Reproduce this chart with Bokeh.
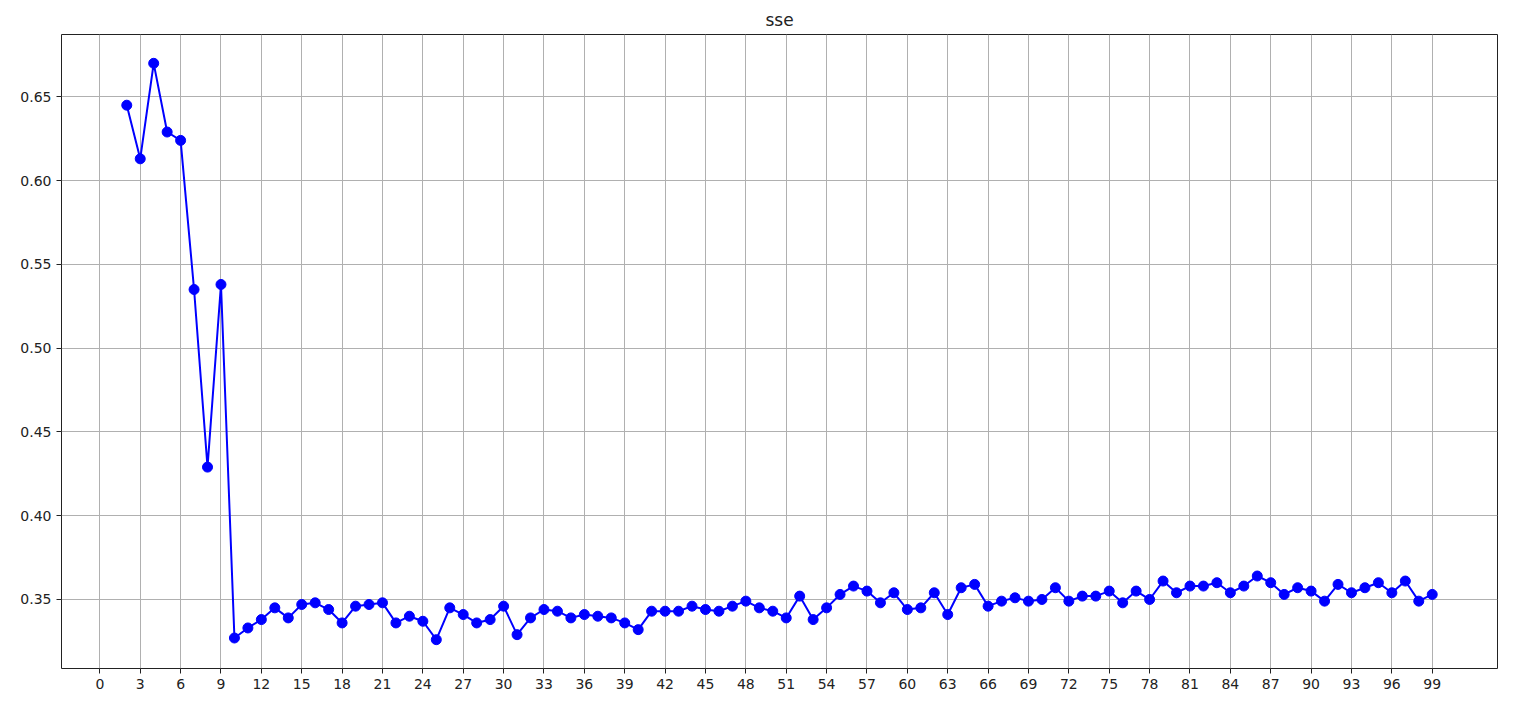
from bokeh.plotting import figure
from bokeh.models import FixedTicker, PrintfTickFormatter, Range1d
from bokeh.embed import file_html
from bokeh.resources import INLINE

# number of clusters k and the sse for each
k_values = list(range(2, 100))
sse = [
    0.645, 0.613, 0.670, 0.629, 0.624, 0.535, 0.429, 0.538,             # 2-9
    0.327, 0.333, 0.338, 0.345, 0.339, 0.347, 0.348, 0.344, 0.336, 0.346,  # 10-19
    0.347, 0.348, 0.336, 0.340, 0.337, 0.326, 0.345, 0.341, 0.336, 0.338,  # 20-29
    0.346, 0.329, 0.339, 0.344, 0.343, 0.339, 0.341, 0.340, 0.339, 0.336,  # 30-39
    0.332, 0.343, 0.343, 0.343, 0.346, 0.344, 0.343, 0.346, 0.349, 0.345,  # 40-49
    0.343, 0.339, 0.352, 0.338, 0.345, 0.353, 0.358, 0.355, 0.348, 0.354,  # 50-59
    0.344, 0.345, 0.354, 0.341, 0.357, 0.359, 0.346, 0.349, 0.351, 0.349,  # 60-69
    0.350, 0.357, 0.349, 0.352, 0.352, 0.355, 0.348, 0.355, 0.350, 0.361,  # 70-79
    0.354, 0.358, 0.358, 0.360, 0.354, 0.358, 0.364, 0.360, 0.353, 0.357,  # 80-89
    0.355, 0.349, 0.359, 0.354, 0.357, 0.360, 0.354, 0.361, 0.349, 0.353,  # 90-99
]
x_ticks = list(range(0, 100, 3))
y_ticks = [0.35, 0.40, 0.45, 0.50, 0.55, 0.60, 0.65]

p = figure(title="sse",
           frame_width=1436, frame_height=634,
           min_border_left=61, min_border_right=6,
           min_border_top=34, min_border_bottom=25,
           x_range=Range1d(-2.85, 103.85), y_range=Range1d(0.3088, 0.6872),
           output_backend="svg", toolbar_location=None)

p.title.align = "center"
p.title.text_font = "DejaVu Sans"
p.title.text_font_size = "17px"
p.title.text_font_style = "normal"
p.title.text_color = "#222222"

p.line(k_values, sse, color="blue", line_width=2)
p.scatter(k_values, sse, color="blue", size=10)

p.xaxis.ticker = FixedTicker(ticks=x_ticks)
p.yaxis.ticker = FixedTicker(ticks=y_ticks)
p.yaxis.formatter = PrintfTickFormatter(format="%.2f")

for ax in p.xaxis + p.yaxis:
    ax.major_label_text_font = "DejaVu Sans"
    ax.major_label_text_font_size = "14px"
    ax.major_label_text_color = "#222222"
    ax.axis_line_color = None
    ax.major_tick_line_color = "#222222"
    ax.major_tick_in = 0
    ax.major_tick_out = 5
    ax.minor_tick_line_color = None

p.xgrid.ticker = FixedTicker(ticks=x_ticks)
p.ygrid.ticker = FixedTicker(ticks=y_ticks)
p.grid.grid_line_color = "#b0b0b0"
p.grid.grid_line_width = 1

p.outline_line_color = "#222222"
p.outline_line_width = 1
p.outline_line_alpha = 1

open("out.html", "w").write(file_html(p, INLINE))
